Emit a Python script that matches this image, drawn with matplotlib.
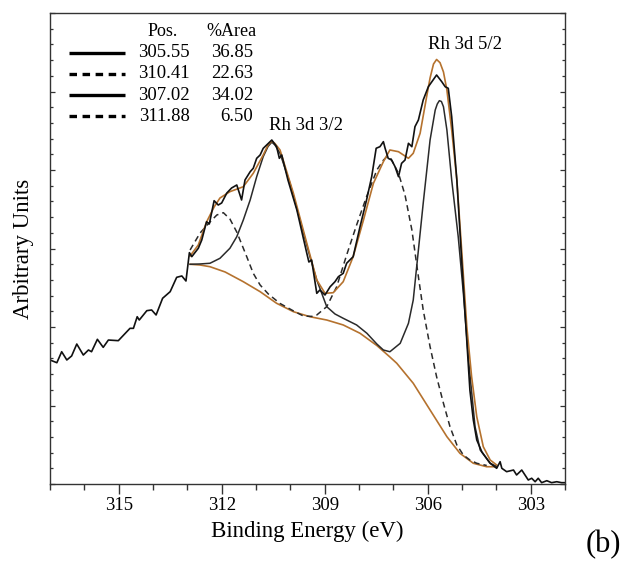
import matplotlib
matplotlib.use('Agg')
import matplotlib.pyplot as plt
from matplotlib.ticker import MultipleLocator, NullFormatter

plt.rcParams['font.family'] = ['Liberation Serif', 'DejaVu Serif']
plt.rcParams['lines.scale_dashes'] = False

# --- data (binding energy in eV, intensity in arb. units) ---
raw_e = [317.00, 316.80, 316.66, 316.51, 316.37, 316.22, 316.03, 315.88, 315.79, 315.62,
         315.45, 315.30, 315.01, 314.67, 314.57, 314.46, 314.40, 314.18, 314.04, 313.91,
         313.72, 313.50, 313.31, 313.16, 313.04, 312.94, 312.87, 312.68, 312.58, 312.44,
         312.36, 312.22, 312.10, 312.00, 311.85, 311.71, 311.56, 311.42, 311.32, 311.17,
         311.08, 310.98, 310.88, 310.79, 310.54, 310.40, 310.32, 310.25, 310.07, 309.81,
         309.52, 309.46, 309.38, 309.23, 309.14, 308.99, 308.84, 308.70, 308.60, 308.46,
         308.36, 308.17, 307.97, 307.78, 307.63, 307.50, 307.39, 307.29, 307.24, 307.15,
         307.05, 306.95, 306.85, 306.76, 306.66, 306.56, 306.46, 306.37, 306.27, 306.13,
         305.98, 305.74, 305.59, 305.49, 305.40, 305.30, 305.15, 305.01, 304.88, 304.77,
         304.67, 304.57, 304.42, 304.18, 303.99, 303.89, 303.84, 303.70, 303.50, 303.41,
         303.26, 303.07, 302.97, 302.87, 302.78, 302.68, 302.53, 302.39, 302.24, 302.10,
         302.00]
raw_i = [1.580, 1.545, 1.685, 1.580, 1.631, 1.783, 1.643, 1.707, 1.685, 1.843,
         1.741, 1.834, 1.826, 1.983, 1.983, 2.131, 2.089, 2.208, 2.217, 2.153,
         2.366, 2.450, 2.633, 2.650, 2.586, 2.947, 2.896, 3.003, 3.108, 3.341,
         3.312, 3.609, 3.554, 3.580, 3.707, 3.771, 3.809, 3.618, 3.873, 3.978,
         4.022, 4.149, 4.191, 4.276, 4.382, 4.297, 4.149, 4.191, 3.873, 3.491,
         2.939, 2.828, 2.854, 2.429, 2.471, 2.408, 2.513, 2.577, 2.641, 2.684,
         2.812, 2.896, 3.278, 3.618, 3.915, 4.277, 4.297, 4.361, 4.277, 4.149,
         4.127, 4.042, 3.915, 4.085, 4.127, 4.340, 4.297, 4.552, 4.637, 4.892,
         5.061, 5.210, 5.125, 5.061, 5.041, 4.679, 3.873, 2.853, 1.962, 1.197,
         0.815, 0.561, 0.408, 0.264, 0.200, 0.284, 0.200, 0.157, 0.178, 0.115,
         0.178, 0.051, 0.073, 0.029, 0.073, 0.017, 0.042, 0.017, 0.029, 0.017,
         0.017]

bg_e = [312.92, 312.63, 312.34, 311.90, 311.37, 310.88, 310.40, 309.91, 309.43, 308.94,
        308.46, 307.97, 307.48, 307.10, 306.90, 306.42, 305.93, 305.44, 305.06, 304.67,
        304.28, 303.98]
bg_i = [2.799, 2.790, 2.768, 2.701, 2.577, 2.450, 2.302, 2.195, 2.131, 2.089,
        2.026, 1.920, 1.764, 1.618, 1.538, 1.283, 0.943, 0.603, 0.391, 0.264,
        0.220, 0.220]

env_e = [312.92, 312.68, 312.44, 312.22, 312.05, 311.76, 311.37, 311.08, 310.79, 310.65,
         310.54, 310.45, 310.30, 309.91, 309.52, 309.23, 308.99, 308.75, 308.46, 308.17,
         307.87, 307.58, 307.29, 307.10, 306.85, 306.56, 306.42, 306.22, 306.03, 305.93,
         305.83, 305.74, 305.64, 305.54, 305.44, 305.30, 305.15, 305.01, 304.86, 304.72,
         304.57, 304.38, 304.18, 303.99]
env_i = [2.905, 3.045, 3.338, 3.529, 3.643, 3.724, 3.787, 3.958, 4.191, 4.319,
         4.370, 4.338, 4.255, 3.703, 3.066, 2.599, 2.429, 2.437, 2.577, 2.896,
         3.363, 3.831, 4.106, 4.255, 4.233, 4.149, 4.213, 4.468, 4.934, 5.172,
         5.350, 5.408, 5.367, 5.249, 5.019, 4.510, 3.873, 2.981, 2.004, 1.367,
         0.857, 0.475, 0.306, 0.242]

# Rh metal doublet (305.55 / 310.41) on background
met_e = [312.92, 312.63, 312.34, 312.05, 311.76, 311.56, 311.37, 311.17, 310.98, 310.79,
         310.65, 310.54, 310.45, 310.30, 310.01, 309.72, 309.43, 309.23, 308.94, 308.70,
         308.46, 308.07, 307.77, 307.48, 307.29, 307.10, 306.80, 306.56, 306.42, 306.32,
         306.13, 305.93, 305.78, 305.72, 305.66, 305.60, 305.54, 305.44, 305.30, 305.11,
         304.96, 304.81, 304.62, 304.47, 304.18, 303.98]
met_i = [2.799, 2.803, 2.812, 2.875, 3.003, 3.150, 3.363, 3.618, 3.915, 4.170,
         4.300, 4.355, 4.320, 4.213, 3.831, 3.363, 2.896, 2.599, 2.259, 2.166,
         2.111, 2.026, 1.920, 1.783, 1.707, 1.685, 1.792, 2.047, 2.344, 2.768,
         3.576, 4.382, 4.764, 4.841, 4.883, 4.873, 4.806, 4.510, 3.873, 3.150,
         2.429, 1.580, 0.730, 0.433, 0.264, 0.223]

# Rh oxide doublet (307.02 / 311.88) on background
ox_e = [312.92, 312.63, 312.34, 312.14, 311.95, 311.76, 311.56, 311.27, 311.08, 310.88,
        310.64, 310.30, 309.91, 309.62, 309.38, 309.23, 308.94, 308.65, 308.36, 308.07,
        307.78, 307.48, 307.30, 307.19, 307.08, 307.00, 306.85, 306.66, 306.46, 306.27,
        306.13, 305.93, 305.74, 305.54, 305.35, 305.15, 304.96, 304.77, 304.57, 304.28]
ox_i = [2.981, 3.197, 3.338, 3.427, 3.456, 3.376, 3.210, 2.896, 2.684, 2.535,
        2.420, 2.300, 2.205, 2.140, 2.135, 2.153, 2.259, 2.513, 2.917, 3.299,
        3.660, 4.000, 4.120, 4.170, 4.150, 4.085, 3.958, 3.682, 3.236, 2.641,
        2.217, 1.749, 1.367, 1.028, 0.730, 0.497, 0.369, 0.306, 0.264, 0.236]

leg_pos = ['305.55', '310.41', '307.02', '311.88']
leg_area = ['36.85', '22.63', '34.02', '6.50']
leg_style = ['-', '--', '-', '--']

ORANGE = '#b5722e'

fig = plt.figure(figsize=(6.28, 5.61), dpi=100)
ax = fig.add_axes([50 / 628, 1 - 484 / 561, 515 / 628, 471 / 561])

ax.plot(bg_e, bg_i, color=ORANGE, lw=1.2)
ax.plot(met_e, met_i, color='#2a2a2a', lw=1.1)
ax.plot(ox_e, ox_i, color='#2a2a2a', lw=1.1, linestyle=(0, (4.3, 2.9)))
ax.plot(env_e, env_i, color=ORANGE, lw=1.2)
ax.plot(raw_e, raw_i, color='#111111', lw=1.2)

ax.set_xlim(317, 302)
ax.set_ylim(0, 6)

ax.xaxis.set_major_locator(MultipleLocator(3))
ax.xaxis.set_minor_locator(MultipleLocator(1))
ax.yaxis.set_major_locator(MultipleLocator(1))
ax.yaxis.set_minor_locator(MultipleLocator(0.2))
ax.yaxis.set_major_formatter(NullFormatter())

ax.tick_params(axis='x', which='both', direction='out', top=False, labelsize=13.5,
               pad=2, color='#333333', width=1.0)
ax.tick_params(axis='x', which='major', length=7.2)
ax.tick_params(axis='x', which='minor', length=4.3)
ax.tick_params(axis='y', which='both', direction='in', left=True, right=True,
               color='#333333', width=0.9)
ax.tick_params(axis='y', which='major', length=3.8)
ax.tick_params(axis='y', which='minor', length=2.4)
for s in ax.spines.values():
    s.set_linewidth(1.0)
    s.set_color('#333333')

ax.text(0.5, -0.0998, 'Binding Energy (eV)', transform=ax.transAxes,
        ha='center', va='center', fontsize=16.5)
ax.text(-0.0505, 0.5, 'Arbitrary Units', transform=ax.transAxes,
        ha='center', va='center', rotation=90, fontsize=16.5)
fig.text(603.5 / 628, 1 - 545 / 561, '(b)', ha='center', va='center', fontsize=22)

ax.text(309.53, 4.573, 'Rh 3d 3/2', ha='center', va='center', fontsize=13.5)
ax.text(304.90, 5.605, 'Rh 3d 5/2', ha='center', va='center', fontsize=13.5)

# legend table
ax.text(0.2194, 0.9597, 'Pos.', transform=ax.transAxes, ha='center', va='center', fontsize=13)
ax.text(0.3515, 0.9597, '%Area', transform=ax.transAxes, ha='center', va='center', fontsize=13)
row_y = [0.9151, 0.8705, 0.8259, 0.7813]
for y, p, a, ls in zip(row_y, leg_pos, leg_area, leg_style):
    style = '-' if ls == '-' else (0, (5.4, 4.0))
    ax.plot([0.0369, 0.1456], [y, y], transform=ax.transAxes, color='black',
            lw=2.4, linestyle=style, solid_capstyle='butt', dash_capstyle='butt')
    ax.text(0.2718, y, p, transform=ax.transAxes, ha='right', va='center', fontsize=13.5)
    ax.text(0.3942, y, a, transform=ax.transAxes, ha='right', va='center', fontsize=13.5)

fig.savefig('out.png', dpi=100)
